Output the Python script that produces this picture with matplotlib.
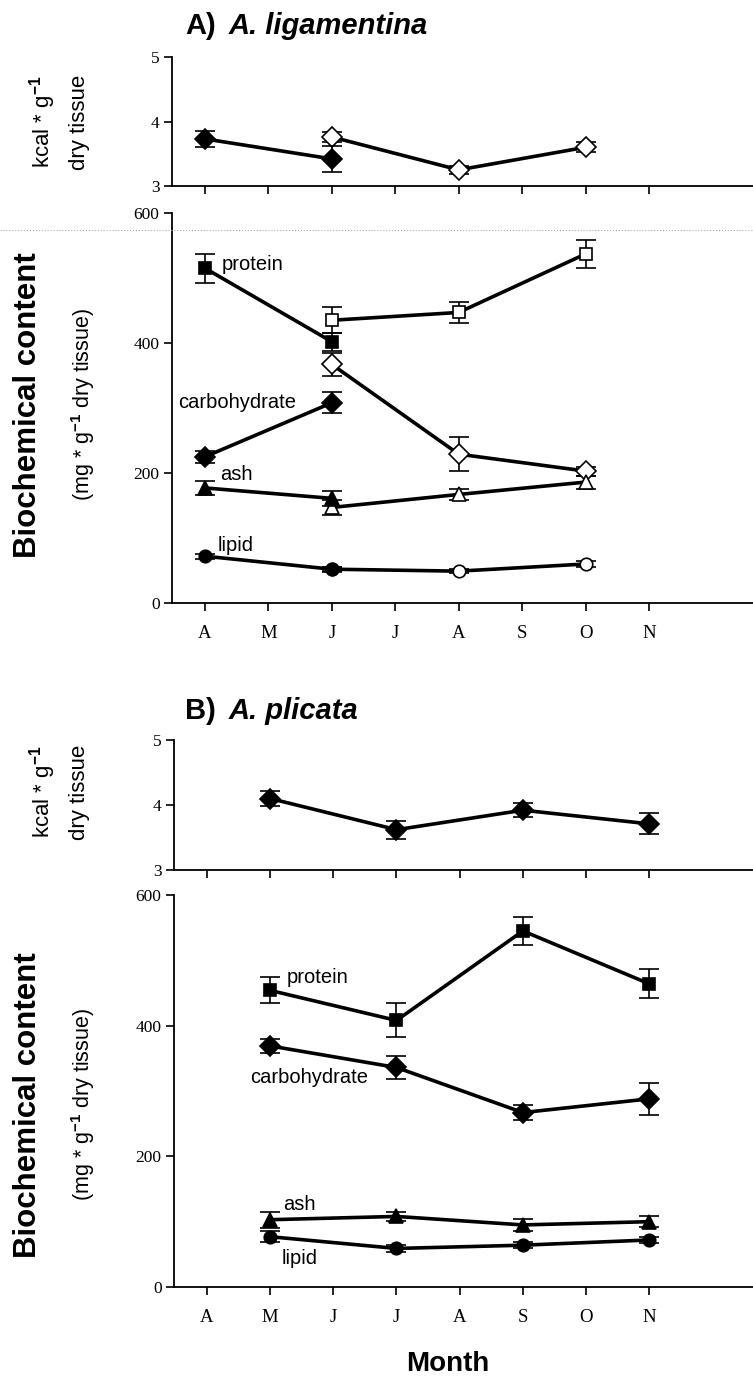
import matplotlib

matplotlib.use("Agg")
import matplotlib.pyplot as plt
from matplotlib.lines import Line2D

W, H = 753, 1385

MONTHS = ["A", "M", "J", "J", "A", "S", "O", "N"]

# A. ligamentina  (month index 0 = April ... 7 = November)
LIG_FILLED_X = [0, 2]
LIG_OPEN_X = [2, 4, 6]

LIG_KCAL_FILLED = [3.73, 3.42]
LIG_KCAL_FILLED_ERR = [0.12, 0.2]
LIG_KCAL_OPEN = [3.76, 3.25, 3.6]
LIG_KCAL_OPEN_ERR = [0.08, 0.06, 0.08]

LIG_PROTEIN_FILLED = [515, 402]
LIG_PROTEIN_FILLED_ERR = [22, 14]
LIG_PROTEIN_OPEN = [435, 447, 537]
LIG_PROTEIN_OPEN_ERR = [20, 16, 22]

LIG_CARB_FILLED = [225, 308]
LIG_CARB_FILLED_ERR = [9, 16]
LIG_CARB_OPEN = [367, 229, 203]
LIG_CARB_OPEN_ERR = [18, 26, 7]

LIG_ASH_FILLED = [177, 161]
LIG_ASH_FILLED_ERR = [11, 12]
LIG_ASH_OPEN = [147, 167, 186]
LIG_ASH_OPEN_ERR = [12, 9, 10]

LIG_LIPID_FILLED = [72, 52]
LIG_LIPID_FILLED_ERR = [4, 4]
LIG_LIPID_OPEN = [52, 49, 60]
LIG_LIPID_OPEN_ERR = [3, 3, 5]

# A. plicata
PLI_X = [1, 3, 5, 7]
PLI_KCAL = [4.1, 3.62, 3.92, 3.71]
PLI_KCAL_ERR = [0.12, 0.14, 0.11, 0.16]
PLI_PROTEIN = [454, 408, 545, 464]
PLI_PROTEIN_ERR = [20, 26, 22, 22]
PLI_CARB = [369, 336, 267, 288]
PLI_CARB_ERR = [11, 17, 12, 24]
PLI_ASH = [103, 108, 95, 100]
PLI_ASH_ERR = [12, 7, 9, 8]
PLI_LIPID = [77, 59, 64, 72]
PLI_LIPID_ERR = [8, 5, 5, 4]

SERIF = "Liberation Serif"
SANS = "Liberation Sans"


def fx(px):
    return px / W


def fy(py):
    return 1 - py / H


def add_axes(fig, left, top, bottom):
    return fig.add_axes([fx(left), fy(bottom), 1 - fx(left), (bottom - top) / H])


def style_axes(ax, ylim, yticks, show_months):
    for side in ("top", "right"):
        ax.spines[side].set_visible(False)
    for side in ("left", "bottom"):
        ax.spines[side].set_linewidth(1.3)
    ax.set_xlim(-0.52, 8.64)
    ax.set_ylim(*ylim)
    ax.set_yticks(yticks)
    ax.set_xticks(range(len(MONTHS)))
    ax.set_xticklabels(MONTHS if show_months else [])
    ax.tick_params(direction="out", length=6, width=1.2, labelsize=12.5, pad=3)
    ax.tick_params(axis="x", labelsize=13.5, pad=10)
    for label in ax.get_xticklabels() + ax.get_yticklabels():
        label.set_fontfamily(SERIF)
    ax.patch.set_alpha(0)


def series(ax, x, y, err, marker, filled, ms=9):
    ax.errorbar(
        x, y, yerr=err, fmt="-", marker=marker, color="black",
        mfc="black" if filled else "white", mec="black", mew=1.2, ms=ms,
        lw=2.6, elinewidth=1.2, capsize=7.5, capthick=1.2,
        zorder=4 if filled else 3, clip_on=False,
    )


def ylabels(fig, top_y, bot_y):
    fig.text(fx(43), fy(top_y), r"kcal * g$^{\mathbf{-1}}$", rotation=90, ha="center", va="center",
             fontsize=16, family=SANS)
    fig.text(fx(80), fy(top_y), "dry tissue", rotation=90, ha="center", va="center",
             fontsize=16, family=SANS)
    fig.text(fx(28), fy(bot_y), "Biochemical content", rotation=90, ha="center", va="center",
             fontsize=22.5, family=SANS, weight="bold")
    fig.text(fx(83), fy(bot_y), r"(mg * g$^{\mathbf{-1}}$ dry tissue)", rotation=90, ha="center",
             va="center", fontsize=15.5, family=SANS)


def title(fig, x, y, tag, name):
    fig.text(fx(x), fy(y), tag, fontsize=21, family=SANS, weight="bold", va="center")
    fig.text(fx(x + 44), fy(y), name, fontsize=21, family=SANS, weight="bold",
             style="italic", va="center")


def main():
    fig = plt.figure(figsize=(W / 100, H / 100), dpi=100)
    fig.patch.set_facecolor("white")
    plt.rcParams["mathtext.fontset"] = "custom"
    plt.rcParams["mathtext.rm"] = SANS
    plt.rcParams["mathtext.bf"] = SANS + ":bold"

    # ---- A) A. ligamentina ----
    title(fig, 185, 26, "A)", "A. ligamentina")

    ax = add_axes(fig, 172, 57, 186)
    style_axes(ax, (3, 5), [3, 4, 5], False)
    series(ax, LIG_OPEN_X, LIG_KCAL_OPEN, LIG_KCAL_OPEN_ERR, "D", False, 10)
    series(ax, LIG_FILLED_X, LIG_KCAL_FILLED, LIG_KCAL_FILLED_ERR, "D", True, 10)

    ax = add_axes(fig, 172, 213, 603)
    style_axes(ax, (0, 600), [0, 200, 400, 600], True)
    series(ax, LIG_OPEN_X, LIG_PROTEIN_OPEN, LIG_PROTEIN_OPEN_ERR, "s", False)
    series(ax, LIG_FILLED_X, LIG_PROTEIN_FILLED, LIG_PROTEIN_FILLED_ERR, "s", True)
    series(ax, LIG_OPEN_X, LIG_CARB_OPEN, LIG_CARB_OPEN_ERR, "D", False, 10)
    series(ax, LIG_FILLED_X, LIG_CARB_FILLED, LIG_CARB_FILLED_ERR, "D", True, 10)
    series(ax, LIG_OPEN_X, LIG_ASH_OPEN, LIG_ASH_OPEN_ERR, "^", False, 10)
    series(ax, LIG_FILLED_X, LIG_ASH_FILLED, LIG_ASH_FILLED_ERR, "^", True, 10)
    series(ax, LIG_OPEN_X, LIG_LIPID_OPEN, LIG_LIPID_OPEN_ERR, "o", False)
    series(ax, LIG_FILLED_X, LIG_LIPID_FILLED, LIG_LIPID_FILLED_ERR, "o", True)
    for txt, x, y in [("protein", 0.27, 520), ("carbohydrate", -0.43, 308),
                      ("ash", 0.24, 197), ("lipid", 0.2, 89)]:
        ax.text(x, y, txt, fontsize=14.5, family=SANS, va="center")
    ylabels(fig, 122, 405)

    # faint scan line across the top of the lower panel
    fig.add_artist(Line2D([0, 1], [fy(230), fy(230)], color="#aaaaaa", lw=0.8, ls=":"))

    # ---- B) A. plicata ----
    title(fig, 185, 711, "B)", "A. plicata")

    ax = add_axes(fig, 174, 740, 870)
    style_axes(ax, (3, 5), [3, 4, 5], False)
    series(ax, PLI_X, PLI_KCAL, PLI_KCAL_ERR, "D", True, 10)

    ax = add_axes(fig, 174, 895, 1287)
    style_axes(ax, (0, 600), [0, 200, 400, 600], True)
    series(ax, PLI_X, PLI_PROTEIN, PLI_PROTEIN_ERR, "s", True)
    series(ax, PLI_X, PLI_CARB, PLI_CARB_ERR, "D", True, 10)
    series(ax, PLI_X, PLI_ASH, PLI_ASH_ERR, "^", True, 10)
    series(ax, PLI_X, PLI_LIPID, PLI_LIPID_ERR, "o", True)
    for txt, x, y in [("protein", 1.26, 474), ("carbohydrate", 0.68, 320),
                      ("ash", 1.2, 126), ("lipid", 1.18, 43)]:
        ax.text(x, y, txt, fontsize=14.5, family=SANS, va="center")
    ylabels(fig, 792, 1105)

    fig.text(fx(448), fy(1364), "Month", fontsize=20, family=SANS, weight="bold",
             ha="center", va="center")

    fig.savefig("out.png", dpi=100, facecolor="white")
    plt.close(fig)


if __name__ == "__main__":
    main()
